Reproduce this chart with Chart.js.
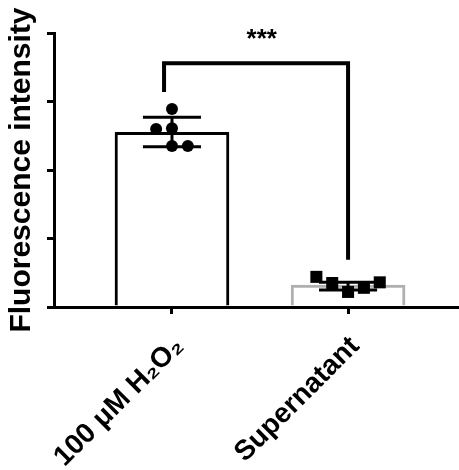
<!DOCTYPE html>
<html>
<head>
<meta charset="utf-8">
<script src="https://cdn.jsdelivr.net/npm/chart.js@4/dist/chart.umd.min.js"></script>
<style>
  html, body { margin: 0; padding: 0; background: #fff; }
  #wrap { width: 459px; height: 470px; }
</style>
</head>
<body>
<div id="wrap"><canvas id="c" width="459" height="470"></canvas></div>
<script>
// ---- data ----
const categories = ['100 \u03BCM H\u2082O\u2082', 'Supernatant'];
const catPos = [1, 2];
const barMeans = [2.55, 0.32];
const sdHigh = [2.77, 0.36];
const sdLow = [2.34, 0.25];
const h2o2Points = [2.35, 2.60, 2.89, 2.61, 2.35];
const h2o2JitterX = [0, -0.09, 0, 0, 0.09];
const superPoints = [0.44, 0.35, 0.22, 0.28, 0.36];
const superJitter = [-0.18, -0.09, 0, 0.09, 0.18];
const sigLabel = '***';
const yTitle = 'Fluorescence intensity';
const yTicks = [0, 1, 2, 3, 4];

const font = 'Liberation Sans, Arial, Helvetica, sans-serif';

const circleData = h2o2Points.map((v, i) => ({x: 1 + h2o2JitterX[i], y: v}));
const squareData = superPoints.map((v, i) => ({x: 2 + superJitter[i], y: v}));

const capHalf = 0.165;
function errData(i) {
  const c = catPos[i];
  return [
    {x: c - capHalf, y: sdHigh[i]}, {x: c + capHalf, y: sdHigh[i]}, {x: c, y: null},
    {x: c, y: sdHigh[i]}, {x: c, y: sdLow[i]}, {x: c + 0.001, y: null},
    {x: c - capHalf, y: sdLow[i]}, {x: c + capHalf, y: sdLow[i]}
  ];
}

const bracket = [
  {x: 0.955, y: 3.14}, {x: 0.955, y: 3.56}, {x: 2, y: 3.56}, {x: 2, y: 0.69}
];

const starPlugin = {
  id: 'stars',
  afterDatasetsDraw(chart) {
    const {ctx, scales} = chart;
    const x = scales.x.getPixelForValue(1.51);
    const y = scales.y.getPixelForValue(3.90);
    ctx.save();
    ctx.font = 'bold 26px ' + font;
    ctx.fillStyle = '#000';
    ctx.textAlign = 'center';
    ctx.textBaseline = 'middle';
    ctx.fillText(sigLabel, x, y);
    ctx.restore();
  }
};

new Chart(document.getElementById('c'), {
  data: {
    datasets: [
      {
        type: 'scatter', data: circleData, pointStyle: 'circle', pointRadius: 6,
        backgroundColor: '#000', borderColor: '#000', borderWidth: 0, order: 0
      },
      {
        type: 'scatter', data: squareData, pointStyle: 'rect', pointRadius: 8.5,
        backgroundColor: '#000', borderColor: '#000', borderWidth: 0, order: 0
      },
      {
        type: 'line', data: errData(0), borderColor: '#000', borderWidth: 3,
        pointRadius: 0, spanGaps: false, order: 1, tension: 0
      },
      {
        type: 'line', data: errData(1), borderColor: '#000', borderWidth: 3,
        pointRadius: 0, spanGaps: false, order: 1, tension: 0
      },
      {
        type: 'line', data: bracket, borderColor: '#000', borderWidth: 4,
        pointRadius: 0, order: 1, tension: 0, borderJoinStyle: 'miter'
      },
      {
        type: 'bar',
        data: catPos.map((c, i) => ({x: c, y: barMeans[i]})),
        backgroundColor: '#fff',
        borderColor: ['#000', '#b0b0b0'],
        borderWidth: 3,
        barThickness: 114,
        grouped: false,
        order: 2
      }
    ]
  },
  options: {
    responsive: false,
    animation: false,
    devicePixelRatio: 1,
    layout: { autoPadding: false, padding: { top: 33, left: 0, right: 0, bottom: 0 } },
    plugins: { legend: { display: false }, tooltip: { enabled: false } },
    scales: {
      x: {
        type: 'linear',
        offset: false,
        min: 0.33, max: 2.63,
        afterBuildTicks: (s) => { s.ticks = catPos.map(v => ({value: v})); },
        afterFit: (s) => { s.height = 163; s.paddingRight = 0; s.paddingLeft = 0; },
        border: { display: true, color: '#000', width: 3 },
        grid: { offset: false, drawOnChartArea: false, drawTicks: true, tickLength: 7, color: '#000', lineWidth: 3 },
        ticks: {
          autoSkip: false,
          minRotation: 45, maxRotation: 45,
          color: '#000',
          padding: 16,
          labelOffset: 7,
          font: { family: font, weight: 'bold', size: 28 },
          callback: (v) => { const i = catPos.indexOf(v); return i >= 0 ? categories[i] : ''; }
        }
      },
      y: {
        min: 0, max: 4,
        afterBuildTicks: (s) => { s.ticks = yTicks.map(v => ({value: v})); },
        afterFit: (s) => { s.width = 54; },
        border: { display: true, color: '#000', width: 3 },
        grid: { drawOnChartArea: false, drawTicks: true, tickLength: 7, color: '#000', lineWidth: 3 },
        ticks: { display: false },
        title: {
          display: true, text: yTitle, color: '#000',
          font: { family: font, weight: 'bold', size: 30 },
          padding: { top: 4, bottom: 0 }
        }
      }
    }
  },
  plugins: [starPlugin]
});
</script>
</body>
</html>
